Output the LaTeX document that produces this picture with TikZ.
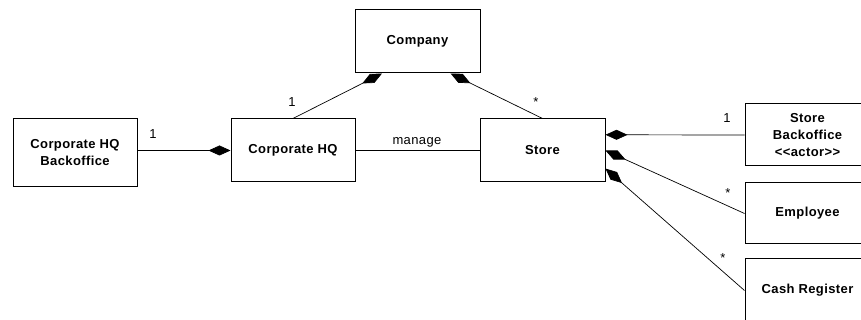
\documentclass[tikz,border=0pt]{standalone}
\usepackage{fontspec}
\setmainfont{Liberation Sans}[LetterSpace=3]
\usetikzlibrary{arrows.meta}

\tikzset{
  classbox/.style={draw, line width=1pt, rectangle, align=center,
    minimum width=125pt, minimum height=63pt, inner sep=2pt,
    font=\fontsize{13}{17}\selectfont\bfseries},
  owns/.style={draw, line width=0.7pt, {Diamond[length=22pt,width=10pt]}-},
  plainlink/.style={draw, line width=0.7pt},
  mult/.style={font=\fontsize{13}{15}\selectfont, inner sep=0pt}
}

\begin{document}
\begin{tikzpicture}[x=1pt,y=1pt]
    % Define the frame of the picture
    \clip (0,0) rectangle (861,320);

    % Classes
    \node[classbox] (Company) at (417.5,278.5) {Company};
    \node[classbox, minimum width=124pt, minimum height=68pt] (HQBack) at (75,167) {Corporate HQ\\Backoffice};
    \node[classbox, minimum width=124pt] (HQ) at (293,169.5) {Corporate HQ};
    \node[classbox] (Store) at (542.5,169.5) {Store};
    \node[classbox, minimum height=62pt] (StoreBack) at (807.5,185) {Store\\Backoffice\\<{}<actor>{}>};
    \node[classbox, minimum height=61pt] (Employee) at (807.5,106.5) {Employee};
    \node[classbox] (Register) at (807.5,29.5) {Cash Register};

    % Associations
    \draw[owns] (HQ.west) -- (HQ.west -| HQBack.east);
    \draw[owns] (Company.222) -- (HQ.north);
    \draw[owns] (Company.316) -- (Store.north);
    \draw[plainlink] (HQ.east) -- (Store.west);
    \draw[owns] (Store.14) -- (StoreBack.west);
    \draw[owns] (Store.east) -- (Employee.west);
    \draw[owns] (Store.-16) -- (Register.west);

    % Multiplicities and names
    \node[mult] (mHQBack) at (153,186) {1};
    \node[mult] (mHQ) at (292,218) {1};
    \node[mult] (mStore) at (536,218) {*};
    \node[mult] (manage) at (417,178) {manage};
    \node[mult] (mStoreBack) at (727,202) {1};
    \node[mult] (mEmployee) at (728,127) {*};
    \node[mult] (mRegister) at (723,62) {*};
\end{tikzpicture}
\end{document}
